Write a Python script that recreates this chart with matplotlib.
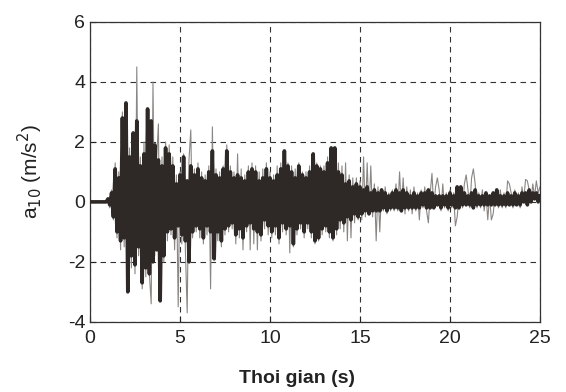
import numpy as np
import matplotlib.pyplot as plt

plt.rcParams['font.family'] = ['Liberation Sans', 'DejaVu Sans']
plt.rcParams['axes.unicode_minus'] = False

# time axis, 0.1 s step
t = np.round(np.arange(0, 25.05, 0.1), 1)

# thick (dark) record
a_thick = [
    0, 0, 0, 0, 0, 0, 0, 0, 0, 0,
    0.1, -0.1, 0.3, -0.5, 1.1, -1.0, 0.8, -1.3, 2.8, -1.2,
    3.3, -3.0, 1.5, -1.8, 2.3, -2.1, 2.7, -1.5, 1.2, -2.7,
    1.6, -2.2, 3.1, -2.4, 2.7, -2.0, 1.9, -1.6, 1.4, -3.3,
    1.2, -1.8, 1.8, -1.0, 1.6, -0.9, 1.2, -1.2, 0.6, -0.8,
    0.9, -1.1, 1.5, -1.3, 0.7, -2.0, 1.2, -1.0, 0.9, -0.8,
    1.1, -0.9, 0.8, -1.2, 0.7, -0.8, 1.0, -1.0, 1.7, -1.9,
    0.9, -1.0, 0.8, -1.3, 1.1, -0.9, 1.7, -0.8, 1.0, -0.7,
    0.8, -1.1, 0.9, -0.9, 0.8, -1.2, 0.7, -0.8, 1.0, -0.7,
    1.1, -0.9, 1.0, -1.0, 0.7, -1.1, 0.8, -0.6, 1.1, -0.8,
    0.8, -1.0, 0.7, -0.8, 0.9, -1.2, 1.1, -0.7, 1.7, -0.9,
    1.2, -0.8, 1.0, -1.4, 0.8, -0.9, 1.2, -0.7, 0.9, -1.0,
    0.8, -0.7, 1.0, -1.0, 1.6, -1.3, 1.2, -1.2, 1.1, -0.9,
    1.0, -0.8, 1.3, -1.0, 1.8, -1.2, 1.8, -0.9, 1.0, -0.6,
    0.9, -0.7, 0.6, -0.5, 0.7, -0.6, 0.5, -0.4, 0.6, -0.5,
    0.5, -0.4, 0.4, -0.3, 0.5, -0.4, 0.3, -0.3, 0.4, -0.3,
    0.3, -0.3, 0.4, -0.2, 0.3, -0.3, 0.2, -0.2, 0.3, -0.2,
    0.4, -0.2, 0.3, -0.3, 0.4, -0.2, 0.3, -0.2, 0.2, -0.2,
    0.3, -0.2, 0.2, -0.2, 0.3, -0.1, 0.3, -0.2, 0.4, -0.2,
    0.3, -0.2, 0.2, -0.1, 0.2, -0.2, 0.2, -0.1, 0.2, -0.2,
    0.3, -0.1, 0.2, -0.2, 0.5, -0.2, 0.5, -0.1, 0.3, -0.1,
    0.2, -0.1, 0.3, -0.2, 0.4, -0.1, 0.2, -0.1, 0.2, -0.1,
    0.3, -0.1, 0.2, -0.1, 0.3, -0.1, 0.4, -0.1, 0.2, -0.1,
    0.2, -0.1, 0.3, -0.1, 0.2, -0.1, 0.3, -0.1, 0.2, -0.1,
    0.3, 0.0, 0.3, -0.1, 0.4, 0.0, 0.3, 0.1, 0.3, 0.0,
    0.2,
]

# thin (grey) record
a_thin = [
    0, 0, 0, 0, 0, 0, 0, 0, 0, 0,
    0.1, -0.2, 0.4, -0.6, 1.3, -1.2, 1.0, -1.6, 3.0, -1.5,
    3.0, -2.8, 1.8, -2.2, 2.0, -2.4, 4.5, -1.8, 1.5, -2.9,
    2.0, -2.5, 2.8, -2.4, -3.4, 4.0, -1.8, 1.4, 2.6, -3.2,
    1.5, -2.0, 2.0, -1.3, 1.9, -1.1, 1.5, -1.6, 0.9, -3.5,
    1.0, -1.4, 1.6, -1.6, -3.7, 1.4, 2.4, -1.2, 1.1, -1.0,
    1.3, -1.2, 1.0, -1.4, 0.9, -1.1, 1.2, -2.9, 2.5, -1.7,
    1.1, -1.3, 1.0, -1.5, 1.2, -1.1, 1.9, -1.0, 1.2, -0.9,
    1.0, -1.4, 1.6, -1.2, 1.1, -1.6, 0.9, -1.0, 1.2, -1.6,
    1.3, -1.4, 1.2, -1.6, 1.0, -1.3, 1.1, -0.9, 1.3, -1.1,
    1.0, -1.2, 0.9, -1.1, 1.2, -1.4, 1.3, -1.0, 1.6, -1.1,
    1.3, -1.7, 1.2, -1.5, 1.1, -1.1, 1.3, -0.9, 1.0, -1.2,
    1.0, -0.9, 1.2, -1.2, 1.5, -1.4, 1.3, -1.3, 1.2, -1.1,
    1.2, -1.0, 1.5, -1.2, 1.7, -1.3, 1.6, -1.1, 1.3, -0.9,
    1.2, -1.0, 1.3, -1.3, 0.9, -1.2, 0.8, -0.7, 0.8, -0.6,
    0.7, -0.6, 1.5, -0.5, 1.3, -0.4, 1.2, -0.5, 0.6, -1.3,
    0.5, -1.0, 0.4, -0.3, 0.5, -0.4, 0.3, -0.3, 0.4, -0.3,
    0.6, -0.3, 1.0, -0.3, 0.8, -0.4, 0.5, -0.3, 0.4, -0.4,
    0.5, -0.3, 0.3, -0.6, 0.4, -0.2, 0.5, -0.3, -0.7, 0.3,
    0.95, -0.2, 0.5, 0.8, 0.4, -0.3, 0.6, -0.2, 0.3, -0.3,
    0.4, -0.2, 0.3, -0.8, -0.5, 0.2, 0.5, -0.2, 0.6, 0.9,
    0.4, -0.2, 0.8, 1.1, 0.6, -0.2, 0.3, -0.2, 0.4, -0.3,
    0.3, -0.6, 0.2, -0.6, -0.4, 0.2, 0.3, -0.2, 0.4, -0.2,
    0.3, -0.2, 0.7, 0.6, 0.3, -0.2, 0.4, -0.1, 0.3, -0.2,
    0.5, 0.1, 0.75, 0.7, 0.4, 0.0, 0.6, 0.2, 0.7, 0.3,
    0.5,
]

xticks = [0, 5, 10, 15, 20, 25]
yticks = [-4, -2, 0, 2, 4, 6]

fig = plt.figure(figsize=(5.66, 3.92), dpi=100)
ax = fig.add_axes([0.159, 0.179, 0.795, 0.765])

ax.plot(t, a_thin, color='#8a8684', lw=0.8, zorder=2)
ax.plot(t, a_thick, color='#2e2926', lw=2.6, zorder=3)

ax.set_xlim(0, 25)
ax.set_ylim(-4, 6)
ax.set_xticks(xticks)
ax.set_yticks(yticks)
ax.tick_params(direction='in', labelsize=14, length=4, colors='#222222')
ax.tick_params(axis='x', pad=6)
ax.grid(True, color='#333333', linestyle=(0, (5, 4)), linewidth=0.8)
for s in ax.spines.values():
    s.set_color('#333333')
    s.set_linewidth(0.9)

ax.set_xlabel('Thoi gian (s)', fontsize=14, fontweight='bold', color='#222222')
ax.xaxis.set_label_coords(0.46, -0.16)
ax.set_ylabel('a$_{10}$ (m/s$^2$)', fontsize=15, color='#222222')
ax.yaxis.set_label_coords(-0.1, 0.5)

fig.savefig('out.png', dpi=100)
